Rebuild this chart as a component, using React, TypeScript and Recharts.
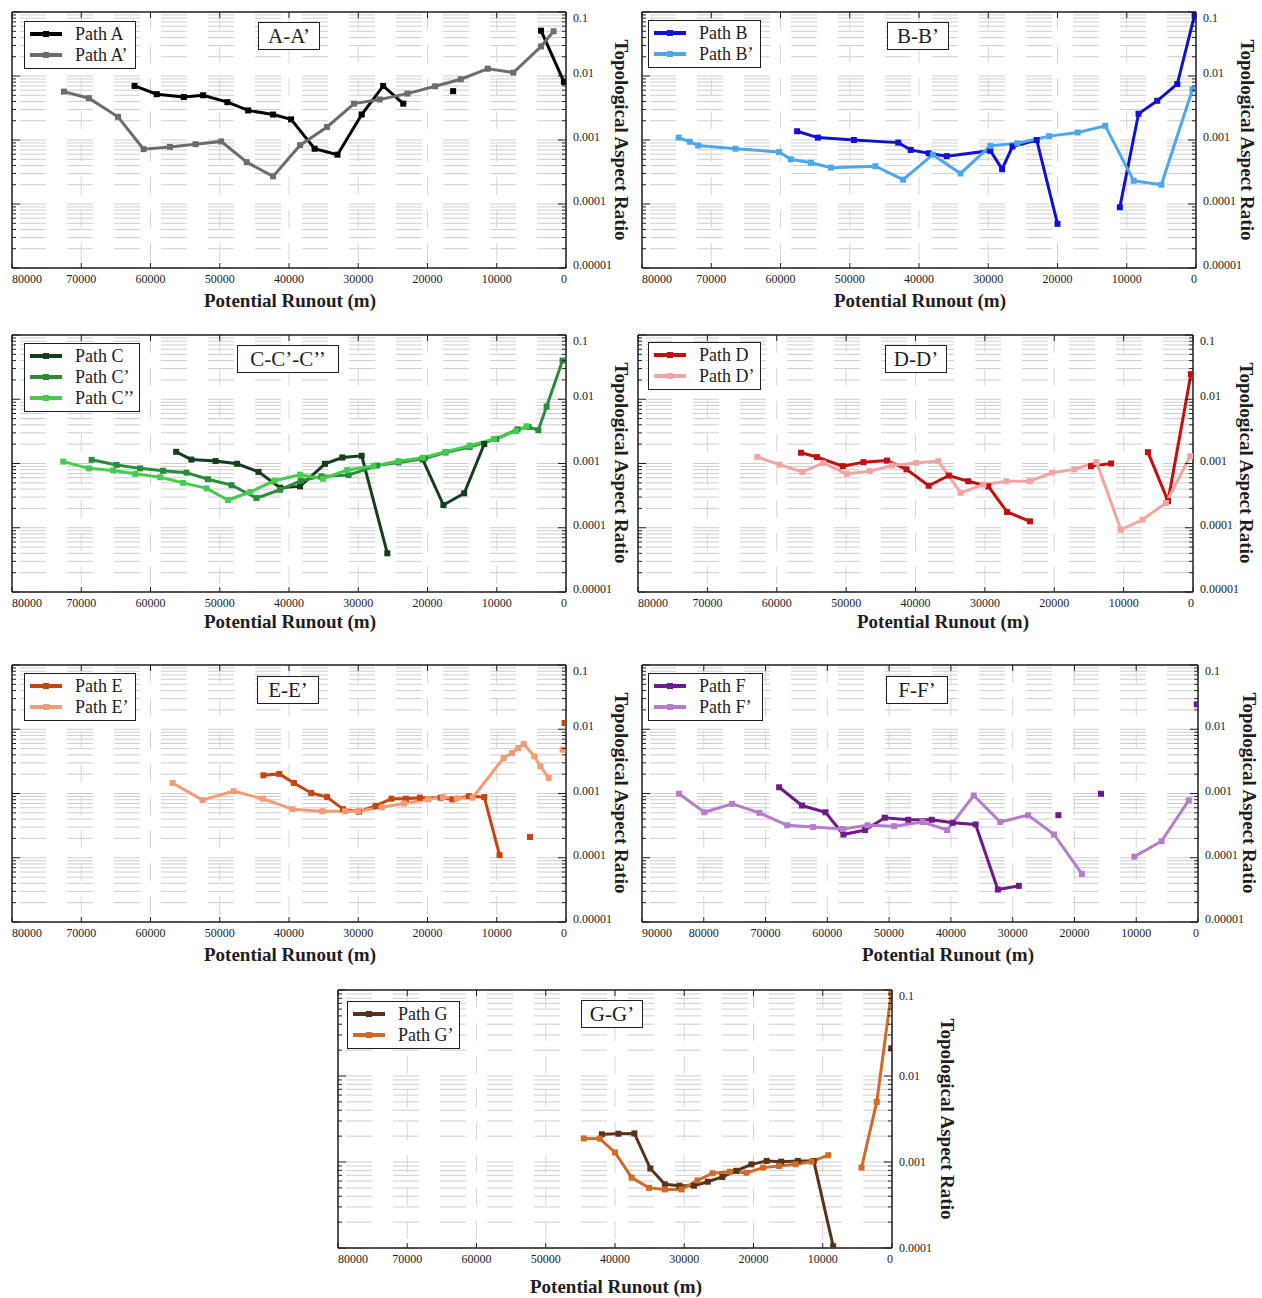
import React from 'react';
import { LineChart, Line, XAxis, YAxis, CartesianGrid } from 'recharts';

type P = [number, number | null];

// ---------------- data (x = potential runout m, y = topological aspect ratio) ----------------
const pathA: P[] = [[62300,0.0070],[59100,0.0052],[55200,0.0047],[52400,0.0050],[48900,0.0039],[45900,0.0029],[42300,0.0025],[39700,0.0021],[36300,0.00073],[33000,0.00059],[29500,0.0025],[26400,0.0070],[23500,0.0037],[20000,null],[16300,0.0058],[10000,null],[3600,0.051],[300,0.0081]];
const pathA2: P[] = [[72500,0.0057],[68900,0.0045],[64700,0.0023],[61000,0.00072],[57200,0.00078],[53500,0.00086],[49800,0.00095],[46100,0.00045],[42300,0.00027],[38400,0.00083],[34500,0.0016],[30600,0.0037],[26900,0.0043],[22900,0.0053],[18900,0.0069],[15200,0.0089],[11300,0.013],[7600,0.0113],[3600,0.029],[1800,0.050]];

const pathB: P[] = [[57600,0.00137],[54600,0.00109],[49400,0.00100],[43000,0.00091],[41200,0.00070],[38600,0.00062],[36000,0.00056],[29700,0.00068],[28000,0.00035],[26500,0.00079],[23000,0.00100],[20000,0.000049],[15000,null],[11000,0.000089],[8300,0.00257],[5600,0.0041],[2700,0.0075],[200,0.09]];
const pathB2: P[] = [[74700,0.00109],[73100,0.00094],[71900,0.00082],[66500,0.00073],[60200,0.00065],[58500,0.00050],[55600,0.00044],[52700,0.00037],[46300,0.00039],[42300,0.00024],[38000,0.00059],[34000,0.00030],[29700,0.00081],[25800,0.00089],[21200,0.00115],[17100,0.00131],[13100,0.00166],[9000,0.00023],[5000,0.00020],[500,0.0062]];

const pathC: P[] = [[56300,0.00152],[54100,0.00115],[50600,0.00109],[47500,0.00099],[44400,0.00074],[41300,0.00042],[38400,0.00044],[34800,0.00099],[32300,0.00124],[29500,0.00132],[25800,0.00004],[23000,null],[20700,0.00116],[17700,0.000226],[14700,0.000344],[11800,0.00201]];
const pathC2: P[] = [[68500,0.00114],[64900,0.00095],[61500,0.00084],[58200,0.00077],[54800,0.00072],[51700,0.00057],[48300,0.00046],[44700,0.00029],[41300,0.00039],[38300,0.00054],[35300,0.00063],[31400,0.00066],[27300,0.00093],[24200,0.00104],[20400,0.00120],[17400,0.00148],[13900,0.00180],[10100,0.00240],[7000,0.0034],[5400,0.0037],[4000,0.0033],[2800,0.0077],[500,0.040]];
const pathC3: P[] = [[72600,0.00107],[68900,0.00084],[65400,0.00078],[62200,0.00069],[58600,0.00061],[55300,0.00050],[51900,0.00041],[48800,0.00027],[45600,0.00036],[42100,0.00054],[38400,0.00067],[35100,0.00058],[31600,0.00079],[27800,0.00091],[24200,0.00109],[20700,0.00123],[17400,0.00152],[13900,0.00190],[10400,0.00240],[7200,0.0032],[5700,0.0038]];

const pathD: P[] = [[56500,0.00147],[54200,0.00126],[50500,0.00091],[47500,0.00105],[44100,0.00111],[41300,0.00081],[38100,0.00045],[35200,0.00065],[32400,0.00053],[29500,0.00044],[26800,0.000176],[23500,0.000126],[18000,null],[14700,0.00091],[11800,0.00100],[9000,null],[6500,0.0015],[3600,0.00026],[300,0.0246]];
const pathD2: P[] = [[62800,0.00126],[59600,0.00096],[56300,0.00074],[53300,0.00102],[49900,0.00069],[46600,0.00076],[43400,0.00093],[39900,0.00102],[36700,0.00109],[33500,0.00035],[30200,0.00047],[26900,0.00053],[23500,0.00053],[20300,0.00072],[17100,0.00081],[13900,0.00105],[10400,0.000093],[7300,0.000133],[3900,0.000243],[400,0.0013]];

const pathE: P[] = [[43700,0.00192],[41400,0.00202],[39300,0.00146],[36800,0.00102],[34500,0.00088],[32200,0.00057],[29900,0.00052],[27500,0.00064],[25200,0.00083],[23100,0.00083],[21100,0.00086],[18100,0.00086],[16400,0.00081],[14000,0.00091],[11800,0.00088],[9600,0.00011],[7000,null],[5200,0.00021],[2500,null],[200,0.0125]];
const pathE2: P[] = [[56800,0.00146],[52500,0.00079],[48000,0.00109],[43800,0.00083],[39500,0.00057],[35200,0.00053],[31900,0.00053],[30000,0.00053],[26600,0.00061],[23400,0.00070],[19900,0.00081],[17800,0.00088],[15800,0.00084],[13500,0.00086],[9000,0.00357],[7800,0.00427],[6900,0.0051],[6100,0.0059],[4600,0.0038],[3700,0.00265],[2500,0.00175],[1500,null],[500,0.0048]];

const pathF: P[] = [[67800,0.00125],[64100,0.00065],[60300,0.00051],[57400,0.00023],[53900,0.00027],[50700,0.00042],[46900,0.00039],[43100,0.00039],[39700,0.00035],[36000,0.00033],[32400,0.000032],[29000,0.0000365],[26000,null],[22600,0.00046],[19000,null],[15700,0.00099],[8000,null],[200,0.0244]];
const pathF2: P[] = [[84000,0.00099],[79900,0.00051],[75400,0.00069],[71000,0.00050],[66500,0.00032],[62300,0.00030],[57500,0.00028],[53500,0.00032],[49200,0.00031],[44600,0.00036],[40600,0.00027],[36300,0.00093],[32000,0.00036],[27500,0.00046],[23300,0.00023],[18800,0.000056],[14000,null],[10300,0.000104],[5900,0.000181],[1500,0.00078]];

const pathG: P[] = [[41900,0.0021],[39500,0.00213],[37200,0.00215],[34900,0.00084],[32800,0.00055],[30700,0.00053],[28600,0.00053],[26600,0.00059],[24500,0.00067],[22500,0.00079],[20300,0.00094],[18100,0.00103],[16000,0.00101],[13600,0.00103],[11300,0.00103],[8500,0.000105],[4000,null],[100,0.021]];
const pathG2: P[] = [[44500,0.00188],[42200,0.00187],[40000,0.00129],[37600,0.00066],[35100,0.0005],[32800,0.00048],[30400,0.00048],[28100,0.00061],[25900,0.00074],[23400,0.00077],[21000,0.00075],[18600,0.00086],[16300,0.0009],[13900,0.00094],[11600,0.00101],[9200,0.0012],[6500,null],[4400,0.00086],[2200,0.005],[100,0.092]];

// ---------------- ticks ----------------
const xTicks80 = [0, 10000, 20000, 30000, 40000, 50000, 60000, 70000, 80000];
const xTicks90 = [0, 10000, 20000, 30000, 40000, 50000, 60000, 70000, 80000, 90000];
const yMajorValues = [0.00001, 0.0001, 0.001, 0.01, 0.1];
const yMajorLabels = ['0.00001', '0.0001', '0.001', '0.01', '0.1'];
const minorSteps = [2, 3, 4, 5, 6, 7, 8, 9];

const X_TITLE = 'Potential Runout (m)';
const Y_TITLE = 'Topological Aspect Ratio';

const SERIF = '"Liberation Serif", "Times New Roman", Times, serif';
const INK = '#1e1e1e';

type Series = { name: string; color: string; data: P[] };
type PanelDef = {
  title: string;
  box: [number, number, number, number];
  xMax: number;
  xTicks: number[];
  yMin: number;
  labelDy: number;
  xTitle: [number, number];
  yTitle: [number, number];
  legend: [number, number, number];
  titleBox: [number, number, number];
  series: Series[];
};

const panels: PanelDef[] = [
  { title: 'A-A’', box: [12, 12, 554, 256], xMax: 80000, xTicks: xTicks80, yMin: 0.00001, labelDy: 1,
    xTitle: [290, 301], yTitle: [621, 140], legend: [24, 21, 112], titleBox: [258, 22, 62],
    series: [{ name: 'Path A', color: '#000000', data: pathA }, { name: 'Path A’', color: '#6c6c6c', data: pathA2 }] },
  { title: 'B-B’', box: [642, 12, 554, 256], xMax: 80000, xTicks: xTicks80, yMin: 0.00001, labelDy: 1,
    xTitle: [920, 301], yTitle: [1247, 140], legend: [648, 20, 113], titleBox: [887, 22, 62],
    series: [{ name: 'Path B', color: '#1010d6', data: pathB }, { name: 'Path B’', color: '#4ba8ec', data: pathB2 }] },
  { title: 'C-C’-C’’', box: [12, 335, 554, 257], xMax: 80000, xTicks: xTicks80, yMin: 0.00001, labelDy: 1,
    xTitle: [290, 622], yTitle: [621, 463], legend: [24, 343, 116], titleBox: [237, 345, 102],
    series: [{ name: 'Path C', color: '#133f1d', data: pathC }, { name: 'Path C’', color: '#2b8b3d', data: pathC2 }, { name: 'Path C’’', color: '#46cc4d', data: pathC3 }] },
  { title: 'D-D’', box: [638, 335, 555, 257], xMax: 80000, xTicks: xTicks80, yMin: 0.00001, labelDy: 1,
    xTitle: [943, 622], yTitle: [1246, 463], legend: [648, 342, 113], titleBox: [885, 345, 62],
    series: [{ name: 'Path D', color: '#c40f0f', data: pathD }, { name: 'Path D’', color: '#f4a3a3', data: pathD2 }] },
  { title: 'E-E’', box: [12, 665, 554, 257], xMax: 80000, xTicks: xTicks80, yMin: 0.00001, labelDy: 1,
    xTitle: [290, 955], yTitle: [621, 793], legend: [24, 673, 112], titleBox: [257, 676, 62],
    series: [{ name: 'Path E', color: '#c9440c', data: pathE }, { name: 'Path E’', color: '#f59a74', data: pathE2 }] },
  { title: 'F-F’', box: [642, 665, 556, 257], xMax: 90000, xTicks: xTicks90, yMin: 0.00001, labelDy: 1,
    xTitle: [948, 955], yTitle: [1249, 793], legend: [648, 673, 115], titleBox: [886, 676, 62],
    series: [{ name: 'Path F', color: '#6e1a8c', data: pathF }, { name: 'Path F’', color: '#b47ccb', data: pathF2 }] },
  { title: 'G-G’', box: [338, 990, 554, 258], xMax: 80000, xTicks: xTicks80, yMin: 0.0001, labelDy: 4,
    xTitle: [616, 1287], yTitle: [947, 1119], legend: [347, 1001, 113], titleBox: [581, 1000, 62],
    series: [{ name: 'Path G', color: '#5b3219', data: pathG }, { name: 'Path G’', color: '#d06a24', data: pathG2 }] },
];

// ---------------- helpers ----------------
const near = (a: number, b: number) => Math.abs(a - b) / Math.max(Math.abs(b), 1e-12) < 1e-6;
const isMajor = (v: number) => Math.abs(Math.log10(v) - Math.round(Math.log10(v))) < 1e-6;
const majorLabel = (v: number) => {
  const i = yMajorValues.findIndex((m) => near(v, m));
  return i >= 0 ? yMajorLabels[i] : '';
};
const buildYTicks = (lo: number) => {
  const out: number[] = [];
  yMajorValues.forEach((d) => {
    if (d >= lo * 0.999) {
      out.push(d);
      if (d < 0.0999) minorSteps.forEach((m) => out.push(d * m));
    }
  });
  return out;
};
const toRows = (d: P[]) => d.map(([x, y]) => ({ x, y }));

const squareDot = (color: string) => (props: any) => {
  const { cx, cy, index, value } = props;
  if (cx == null || cy == null || value == null || Number.isNaN(cy)) return <g key={`d${index}`} />;
  return <rect key={`d${index}`} x={cx - 3} y={cy - 3} width={6} height={6} fill={color} />;
};

const bottomTick = (xMax: number) => (props: any) => {
  const { x, y, payload } = props;
  const v = payload.value as number;
  const anchor = v === xMax ? 'start' : v === 0 ? 'end' : 'middle';
  const tx = v === 0 ? x + 1 : x;
  return (
    <g>
      <line x1={x} x2={x} y1={y} y2={y - 5} stroke={INK} strokeWidth={1} />
      <text x={tx} y={y + 15} textAnchor={anchor} fontFamily={SERIF} fontSize={12} fill={INK}>{String(v)}</text>
    </g>
  );
};
const topTick = (props: any) => {
  const { x, y } = props;
  return <line x1={x} x2={x} y1={y} y2={y + 6} stroke={INK} strokeWidth={1} />;
};
const leftTick = (props: any) => {
  const { x, y, payload } = props;
  const len = isMajor(payload.value) ? 8 : 4;
  return <line x1={x} x2={x + len} y1={y} y2={y} stroke={INK} strokeWidth={1} />;
};
const rightTick = (labelDy: number) => (props: any) => {
  const { x, y, payload } = props;
  const v = payload.value as number;
  const major = isMajor(v);
  const ty = near(v, 0.1) ? y + 10 : y + labelDy;
  return (
    <g>
      <line x1={x - (major ? 8 : 4)} x2={x} y1={y} y2={y} stroke={INK} strokeWidth={1} />
      {major ? (
        <text x={x + 7} y={ty} fontFamily={SERIF} fontSize={12} fill={INK}>{majorLabel(v)}</text>
      ) : null}
    </g>
  );
};

const axisLineStyle = { stroke: INK, strokeWidth: 1.5 };

function Panel({ p }: { p: PanelDef }) {
  const [L, T, W, H] = p.box;
  const ML = 6, MT = 6, RW = 52, BH = 24;
  const cw = ML + W + RW + 2;
  const ch = MT + H + BH + 2;
  const yTicks = buildYTicks(p.yMin);
  const [lx, ly, lw] = p.legend;
  const [tx, ty, tw] = p.titleBox;
  return (
    <>
      <div style={{ position: 'absolute', left: L - ML, top: T - MT, width: cw, height: ch }}>
        <LineChart width={cw} height={ch} margin={{ top: MT - 1, left: ML - 1, right: 2, bottom: 2 }}>
          <CartesianGrid xAxisId="bottom" yAxisId="left" vertical={false} stroke="#cdcdcd" strokeWidth={1} strokeDasharray="26 21" strokeDashoffset={39} />
          <CartesianGrid xAxisId="bottom" yAxisId="left" horizontal={false} stroke="#d4d4d4" strokeWidth={1} strokeDasharray="18 15" />
          <XAxis xAxisId="bottom" dataKey="x" type="number" domain={[0, p.xMax]} reversed ticks={p.xTicks} interval={0}
            allowDataOverflow height={BH} tickSize={0} tickMargin={0} tickLine={false} axisLine={axisLineStyle} tick={bottomTick(p.xMax)} />
          <XAxis xAxisId="top" orientation="top" dataKey="x" type="number" domain={[0, p.xMax]} reversed ticks={p.xTicks} interval={0}
            allowDataOverflow height={1} tickSize={0} tickMargin={0} tickLine={false} axisLine={axisLineStyle} tick={topTick} />
          <YAxis yAxisId="left" orientation="left" type="number" scale="log" domain={[p.yMin, 0.1]} ticks={yTicks} interval={0}
            allowDataOverflow width={1} tickSize={0} tickMargin={0} tickLine={false} axisLine={axisLineStyle} tick={leftTick} />
          <YAxis yAxisId="right" orientation="right" type="number" scale="log" domain={[p.yMin, 0.1]} ticks={yTicks} interval={0}
            allowDataOverflow width={RW} tickSize={0} tickMargin={0} tickLine={false} axisLine={axisLineStyle} tick={rightTick(p.labelDy)} />
          {p.series.map((s) => (
            <Line key={s.name} xAxisId="bottom" yAxisId="right" data={toRows(s.data)} dataKey="y" name={s.name}
              type="linear" stroke={s.color} strokeWidth={3} dot={squareDot(s.color)} activeDot={false}
              connectNulls={false} isAnimationActive={false} legendType="none" />
          ))}
        </LineChart>
      </div>

      {/* legend */}
      <div style={{ position: 'absolute', left: lx, top: ly, width: lw, height: 4 + p.series.length * 21 + 2,
        border: `1px solid ${INK}`, background: '#fff', boxSizing: 'border-box' }}>
        {p.series.map((s, i) => (
          <div key={s.name} style={{ position: 'absolute', left: 0, top: 1 + i * 21, height: 22, display: 'flex', alignItems: 'center' }}>
            <svg width={40} height={10} style={{ marginLeft: 4, display: 'block' }}>
              <line x1={1} x2={33} y1={5} y2={5} stroke={s.color} strokeWidth={4} />
              <rect x={14} y={2} width={6} height={6} fill={s.color} />
            </svg>
            <span style={{ marginLeft: 6, fontFamily: SERIF, fontSize: 18, color: INK, lineHeight: '22px', whiteSpace: 'nowrap' }}>{s.name}</span>
          </div>
        ))}
      </div>

      {/* panel title */}
      <div style={{ position: 'absolute', left: tx, top: ty, width: tw, height: 28, border: `1px solid ${INK}`, background: '#fff',
        boxSizing: 'border-box', fontFamily: SERIF, fontSize: 21, lineHeight: '26px', textAlign: 'center', color: INK, whiteSpace: 'nowrap' }}>
        {p.title}
      </div>

      {/* axis titles */}
      <div style={{ position: 'absolute', left: p.xTitle[0] - 150, top: p.xTitle[1] - 12, width: 300, height: 24, textAlign: 'center',
        fontFamily: SERIF, fontWeight: 'bold', fontSize: 19, lineHeight: '24px', color: INK, whiteSpace: 'nowrap' }}>
        {X_TITLE}
      </div>
      <div style={{ position: 'absolute', left: p.yTitle[0] - 130, top: p.yTitle[1] - 12, width: 260, height: 24, textAlign: 'center',
        fontFamily: SERIF, fontWeight: 'bold', fontSize: 19, lineHeight: '24px', color: INK, whiteSpace: 'nowrap',
        transform: 'rotate(90deg)' }}>
        {Y_TITLE}
      </div>
    </>
  );
}

export default function App() {
  return (
    <div style={{ position: 'absolute', left: 0, top: 0, width: 1262, height: 1298, background: '#fff', overflow: 'hidden' }}>
      <style>{'.recharts-surface{overflow:visible}'}</style>
      {panels.map((p) => (
        <Panel key={p.title} p={p} />
      ))}
    </div>
  );
}
